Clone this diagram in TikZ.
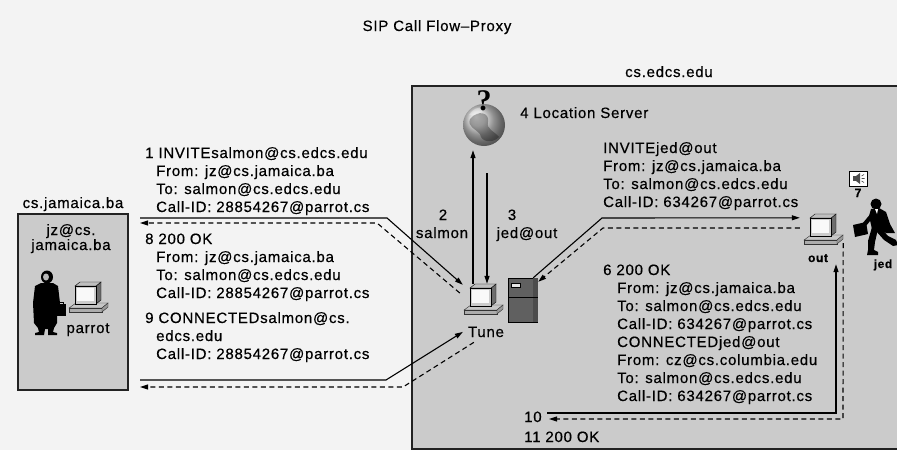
\documentclass[tikz,border=0pt]{standalone}
\usepackage{fontspec}
\setmainfont{Liberation Sans}[LetterSpace=5, FakeBold=0.5]
\newfontfamily\qfont{Liberation Serif}
\usetikzlibrary{arrows.meta,calc}

\definecolor{paper}{HTML}{F3F3F3}
\definecolor{boxfill}{HTML}{CBCBCB}
\definecolor{boxline}{HTML}{222222}

\tikzset{
  txt/.style={inner sep=0pt, font=\fontsize{15}{18}\selectfont, anchor=base west},
  ctxt/.style={txt, anchor=base},
  small/.style={inner sep=0pt, font=\fontsize{12}{14}\selectfont\bfseries, anchor=base},
  zonebox/.style={draw=boxline, line width=1.5pt, fill=boxfill, anchor=north west, inner sep=0pt},
  iconbox/.style={inner sep=0pt, rectangle},
  sig/.style={line width=1.1pt, -{Triangle[length=8pt,width=5pt]}},
  ret/.style={sig, dash pattern=on 5pt off 3.5pt},
  % desktop computer: monitor on a keyboard base, origin at the monitor face
  pics/computer/.style={code={
    \filldraw[fill=gray!45, draw=gray!40!black, line width=.4pt]
      (-19,12) -- (-12,7) -- (20,7) -- (14,12) -- cycle;
    \filldraw[fill=gray!65, draw=gray!40!black, line width=.4pt]
      (-19,12) rectangle (14,16);
    \filldraw[fill=gray!80, draw=gray!40!black, line width=.4pt]
      (14,12) -- (20,7) -- (20,11) -- (14,16) -- cycle;
    \filldraw[fill=gray!85!black, draw=black, line width=.4pt]
      (8,-10) -- (13,-14) -- (13,4) -- (8,8) -- cycle;
    \filldraw[fill=gray!50, draw=black, line width=.4pt]
      (-13,-10) -- (-8,-14) -- (13,-14) -- (8,-10) -- cycle;
    \filldraw[fill=gray!40, draw=black, line width=.4pt] (-13,-10) rectangle (8,8);
    \fill[gray!5] (-11,-8) rectangle (6,5);
  }},
  % standing man in a long coat with a briefcase, origin at the head
  pics/standing/.style={code={
    \fill[black] (0,0) ellipse [x radius=6, y radius=6.5];
    \fill[gray!55] (-1,0) ellipse [x radius=3, y radius=3.5];
    \fill[black] (-6,6) -- (6,6) -- (11,9) -- (13,26) -- (10,28) -- (10,46) -- (7,51)
      -- (6,55) -- (10,56) -- (10,58) -- (1,58) -- (1,52) -- (-2,52) -- (-3,58)
      -- (-12,58) -- (-12,56) -- (-8,55) -- (-9,51) -- (-13,46) -- (-14,26)
      -- (-12,9) -- cycle;
    \fill[black] (10,27) rectangle (19,39);
    \draw[black, line width=.8pt] (12.5,27) -- (12.5,25) -- (16.5,25) -- (16.5,27);
  }},
  % running man with a briefcase, origin at the head
  pics/running/.style={code={
    \fill[black] (0,0) circle (5.5);
    \fill[black] (-5,5) -- (3,4) -- (10,8) -- (14,20) -- (19,29) -- (10,29) -- (6,27)
      -- (-4,25) -- (-7,12) -- cycle;
    \fill[white] (-1,5) -- (2,5) -- (1,10) -- cycle;
    \fill[black] (5,24) -- (12,32) -- (20,36) -- (22,41) -- (17,42) -- (8,36)
      -- (0,27) -- cycle;
    \fill[black] (-4,23) -- (2,25) -- (-1,38) -- (-2,46) -- (2,48) -- (2,51)
      -- (-9,51) -- (-8,46) -- (-8,37) -- cycle;
    \fill[black] (-4,8) -- (-1,11) -- (-10,22) -- (-14,20) -- cycle;
    \fill[black] (-23,21) -- (-10,18) -- (-8,30) -- (-21,33) -- cycle;
  }},
  % tower server, origin at the centre
  pics/server/.style={code={
    \filldraw[fill=gray!75!black, draw=black, line width=.6pt] (-14,-22) rectangle (15,22);
    \fill[gray!60!black] (10,-22) rectangle (15,22);
    \draw[black, line width=.5pt] (-14,-3) -- (15,-3);
    \filldraw[fill=gray!20, draw=black, line width=.3pt] (-11,-17) rectangle (-2,-13);
  }},
  % globe of the location server, origin at the centre
  pics/globe/.style={code={
    \shade[ball color=gray!40] (0,0) circle (21);
    \fill[black, opacity=.3] (-14,-6) .. controls (-6,-16) and (6,-12) .. (4,-3)
      .. controls (2,4) and (10,6) .. (15,12) .. controls (8,19) and (-3,17) .. (-4,9)
      .. controls (-8,4) and (-17,2) .. cycle;
    \fill[white, opacity=.3] (-15,-10) .. controls (-10,-18) and (-2,-19) .. (2,-16)
      .. controls (-4,-12) and (-10,-8) .. cycle;
  }},
  % ringing speaker badge, origin at the top left corner
  pics/speaker/.style={code={
    \filldraw[fill=white, draw=black, line width=.6pt] (0,0) rectangle (18,15);
    \fill[gray!60!black] (4,5) rectangle (7,10);
    \fill[gray!60!black] (7,5) -- (11,2) -- (11,13) -- (7,10) -- cycle;
    \draw[gray!60!black, line width=.6pt] (12.5,5) -- (15,3.5) (12.5,7.5) -- (15.5,7.5)
      (12.5,10) -- (15,11.5);
  }},
}

\begin{document}
\begin{tikzpicture}[x=1pt, y=-1pt]
  \fill[paper] (0,0) rectangle (897,450);
  \useasboundingbox (0,0) rectangle (897,450);

  % domains
  \begin{scope}
    \clip (0,0) rectangle (897,450);
    \node[zonebox, minimum width=490pt, minimum height=363pt] (edcs) at (411,85) {};
  \end{scope}
  \node[zonebox, minimum width=110pt, minimum height=176pt] (jamaica) at (17,213) {};

  \node[ctxt] (title) at (437,31) {SIP Call Flow–Proxy};
  \node[txt] (edcslbl) at (625,77) {cs.edcs.edu};
  \node[ctxt] (jamlbl) at (73,208) {cs.jamaica.ba};

  % caller side
  \node[ctxt] (jz1) at (71,235) {jz@cs.};
  \node[ctxt] (jz2) at (71,250) {jamaica.ba};
  \pic at (47,277) {standing};
  \pic at (88,296) {computer};
  \node[iconbox, minimum width=40pt, minimum height=32pt] (parrot) at (88,298) {};
  \node[ctxt] (parrotlbl) at (88,333) {parrot};

  % proxy and location server
  \pic at (484,125) {globe};
  \node[iconbox, circle, minimum size=42pt] (globe) at (484,125) {};
  \node[inner sep=0pt, font=\qfont\bfseries\fontsize{30}{30}\selectfont] (qmark) at (484,101) {?};
  \node[txt] (loclbl) at (520,118) {4 Location Server};

  \pic at (483,298) {computer};
  \node[iconbox, minimum width=40pt, minimum height=32pt] (tune) at (482,300) {};
  \node[ctxt] (tunelbl) at (486,337) {Tune};

  \pic at (522.5,300) {server};
  \node[iconbox, minimum width=29pt, minimum height=44pt] (server) at (522.5,300) {};

  \node[ctxt] (n2) at (443,220) {2};
  \node[ctxt] (n2b) at (442,238) {salmon};
  \node[ctxt] (n3) at (512,220) {3};
  \node[ctxt] (n3b) at (527,238) {jed@out};

  % callee side
  \pic at (823,228) {computer};
  \node[iconbox, minimum width=38pt, minimum height=34pt] (out) at (824,232) {};
  \node[small] (outlbl) at (818,262) {out};
  \pic at (849,171) {speaker};
  \node[iconbox, minimum width=18pt, minimum height=15pt] (ring) at (858,178.5) {};
  \node[small] (n7) at (858,197) {7};
  \pic at (876,204) {running};
  \node[small] (jedlbl) at (883,268) {jed};

  % message texts, caller side
  \node[txt] (inv1a) at (145,158) {1 INVITEsalmon@cs.edcs.edu};
  \node[txt] (inv1b) at (156,176) {From: jz@cs.jamaica.ba};
  \node[txt] (inv1c) at (156,194) {To: salmon@cs.edcs.edu};
  \node[txt] (inv1d) at (156,212) {Call-ID: 28854267@parrot.cs};

  \node[txt] (ok8a) at (145,244) {8 200 OK};
  \node[txt] (ok8b) at (156,262) {From: jz@cs.jamaica.ba};
  \node[txt] (ok8c) at (156,280) {To: salmon@cs.edcs.edu};
  \node[txt] (ok8d) at (156,298) {Call-ID: 28854267@parrot.cs};

  \node[txt] (con9a) at (145,323) {9 CONNECTEDsalmon@cs.};
  \node[txt] (con9b) at (156,341) {edcs.edu};
  \node[txt] (con9c) at (156,359) {Call-ID: 28854267@parrot.cs};

  % message texts, callee side
  \node[txt] (inv5a) at (603,153) {INVITEjed@out};
  \node[txt] (inv5b) at (603,171) {From: jz@cs.jamaica.ba};
  \node[txt] (inv5c) at (603,189) {To: salmon@cs.edcs.edu};
  \node[txt] (inv5d) at (603,207) {Call-ID: 634267@parrot.cs};

  \node[txt] (ok6a) at (603,275) {6 200 OK};
  \node[txt] (ok6b) at (617,293) {From: jz@cs.jamaica.ba};
  \node[txt] (ok6c) at (617,311) {To: salmon@cs.edcs.edu};
  \node[txt] (ok6d) at (617,329) {Call-ID: 634267@parrot.cs};
  \node[txt] (ok6e) at (617,347) {CONNECTEDjed@out};
  \node[txt] (ok6f) at (617,365) {From: cz@cs.columbia.edu};
  \node[txt] (ok6g) at (617,383) {To: salmon@cs.edcs.edu};
  \node[txt] (ok6h) at (617,401) {Call-ID: 634267@parrot.cs};

  \node[txt] (n10) at (524,422) {10};
  \node[txt] (n11) at (524,442) {11 200 OK};

  % bends and free ends of the signalling paths
  \coordinate (s1) at (140,218);  \coordinate (k1) at (387,218);
  \coordinate (k8) at (377,223);  \coordinate (e8) at (140,223);
  \coordinate (s9) at (140,380);  \coordinate (k9) at (386,380);
  \coordinate (kr) at (403,387);  \coordinate (er) at (140,387);
  \coordinate (k5) at (602,218);  \coordinate (k5r) at (603,228);
  \coordinate (s6) at (547,413);  \coordinate (k6) at (836,413);
  \coordinate (k10) at (843,419); \coordinate (e10) at (549,419);

  % caller <-> proxy
  \draw[sig] (s1) -- (k1) -- ([shift={(1,1)}]tune.north west);
  \draw[ret] ([shift={(-2,-7)}]tune.west) -- (k8) -- (e8);
  \draw[sig] (s9) -- (k9) -- ([xshift=-5pt]tunelbl.west);
  \draw[ret] ([shift={(6,5)}]tunelbl.south west) -- (kr) -- (er);

  % proxy <-> location server
  \draw[sig] ([xshift=-9pt]tune.north) -- ([shift={(-11,4)}]globe.south);
  \draw[sig] ([shift={(3,27)}]globe.south) -- ([xshift=5pt]tune.north);

  % proxy <-> callee
  \draw[sig] ([xshift=-4pt]server.north east) -- (k5) -- ([shift={(-5,3)}]out.north west);
  \draw[ret] ([shift={(-5,-4)}]out.west) -- (k5r) -- ([shift={(1,4)}]server.north east);
  \draw[sig] (s6) -- (k6) -- ([shift={(12,15)}]out.south);
  \draw[ret] ([shift={(0,-6)}]out.south east) -- (k10) -- (e10);
\end{tikzpicture}
\end{document}
